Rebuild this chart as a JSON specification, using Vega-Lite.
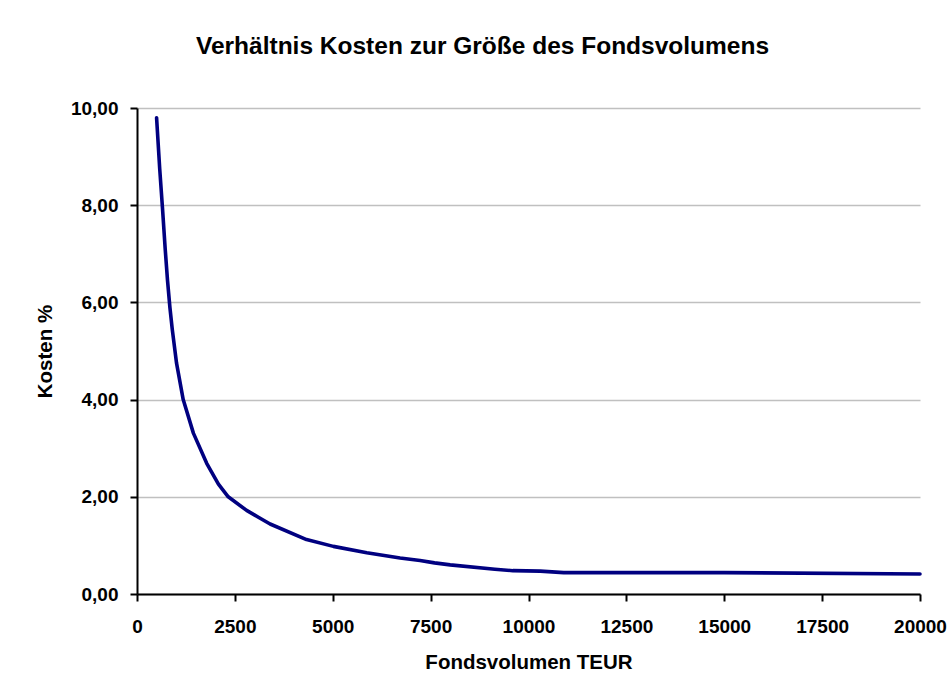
{
  "$schema": "https://vega.github.io/schema/vega-lite/v6.json",
  "width": 783,
  "height": 486,
  "autosize": {"type": "none"},
  "padding": {"left": 137, "top": 108, "right": 27, "bottom": 98},
  "background": "#ffffff",
  "title": {
    "text": "Verhältnis Kosten zur Größe des Fondsvolumens",
    "font": "Liberation Sans",
    "fontSize": 24.5,
    "fontWeight": "bold",
    "color": "#000000",
    "anchor": "middle",
    "dx": -46,
    "offset": 40
  },
  "data": {
    "values": [
      {"volumen": 500, "kosten": 9.80},
      {"volumen": 580, "kosten": 8.75},
      {"volumen": 650, "kosten": 7.95},
      {"volumen": 720, "kosten": 7.10},
      {"volumen": 780, "kosten": 6.45},
      {"volumen": 840, "kosten": 5.90},
      {"volumen": 900, "kosten": 5.45},
      {"volumen": 1010, "kosten": 4.75},
      {"volumen": 1180, "kosten": 4.00},
      {"volumen": 1440, "kosten": 3.31},
      {"volumen": 1780, "kosten": 2.69},
      {"volumen": 2080, "kosten": 2.26},
      {"volumen": 2330, "kosten": 2.00},
      {"volumen": 2800, "kosten": 1.72},
      {"volumen": 3100, "kosten": 1.58},
      {"volumen": 3400, "kosten": 1.44},
      {"volumen": 4330, "kosten": 1.12},
      {"volumen": 5015, "kosten": 0.98},
      {"volumen": 5870, "kosten": 0.85},
      {"volumen": 6720, "kosten": 0.74},
      {"volumen": 7230, "kosten": 0.69},
      {"volumen": 7600, "kosten": 0.64},
      {"volumen": 8000, "kosten": 0.60},
      {"volumen": 9140, "kosten": 0.51},
      {"volumen": 9600, "kosten": 0.48},
      {"volumen": 10300, "kosten": 0.47},
      {"volumen": 10900, "kosten": 0.44},
      {"volumen": 15000, "kosten": 0.44},
      {"volumen": 20000, "kosten": 0.41}
    ]
  },
  "mark": {"type": "line", "color": "#000080", "strokeWidth": 3.6, "strokeCap": "round", "strokeJoin": "round", "clip": false},
  "encoding": {
    "x": {
      "field": "volumen",
      "type": "quantitative",
      "scale": {"domain": [0, 20000], "nice": false, "zero": true},
      "axis": {
        "title": "Fondsvolumen TEUR",
        "values": [0, 2500, 5000, 7500, 10000, 12500, 15000, 17500, 20000],
        "format": "d",
        "grid": false,
        "labelPadding": 16,
        "titlePadding": 16
      }
    },
    "y": {
      "field": "kosten",
      "type": "quantitative",
      "scale": {"domain": [0, 10], "nice": false},
      "axis": {
        "title": "Kosten %",
        "values": [0, 2, 4, 6, 8, 10],
        "labelExpr": "replace(format(datum.value, '.2f'), '.', ',')",
        "grid": true,
        "gridColor": "#c0c0c0",
        "gridWidth": 1.5,
        "labelPadding": 12,
        "titlePadding": 15
      }
    }
  },
  "config": {
    "view": {"stroke": null},
    "axis": {
      "domainColor": "#000000",
      "domainWidth": 2,
      "tickColor": "#000000",
      "tickWidth": 2,
      "tickSize": 7,
      "labelFont": "Liberation Sans",
      "labelFontSize": 19,
      "labelFontWeight": "bold",
      "labelColor": "#000000",
      "titleFont": "Liberation Sans",
      "titleFontSize": 20.5,
      "titleFontWeight": "bold",
      "titleColor": "#000000",
      "labelOverlap": false,
      "labelFlush": false
    }
  }
}
